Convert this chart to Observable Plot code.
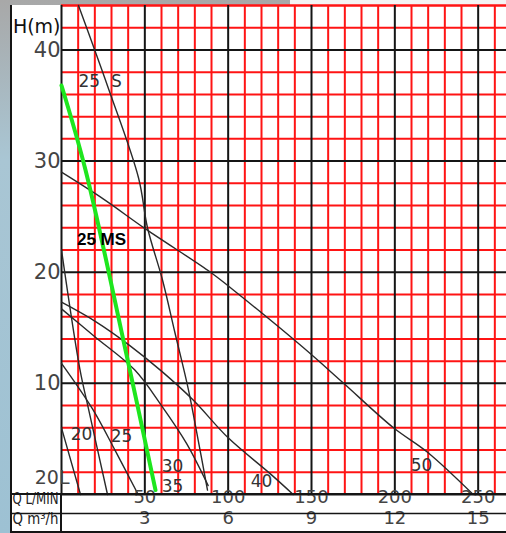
<!DOCTYPE html>
<html><head><meta charset="utf-8">
<script src="https://cdn.jsdelivr.net/npm/d3@7"></script>
<script src="https://cdn.jsdelivr.net/npm/@observablehq/plot@0.6"></script>
<style>
html,body{margin:0;padding:0;background:#fff;}
#wrap{width:506px;height:533px;overflow:hidden;}
svg{display:block;}
</style></head><body><div id="wrap"></div>
<script>
// ---- tick values / labels ----
const qTicks = [50, 100, 150, 200, 250];
const qLabels = ["50", "100", "150", "200", "250"];
const m3Labels = ["3", "6", "9", "12", "15"];
const hTicks = [10, 20, 30, 40];
const hLabels = ["10", "20", "30", "40"];
const qMajor = [0, 50, 100, 150, 200, 250];
const hMajor = [0, 10, 20, 30, 40];
const qMinor = d3.range(10, 267, 10).filter(v => v % 50 !== 0);
const hMinor = d3.range(2, 45, 2).filter(v => v % 10 !== 0);

// ---- curves (Q in L/min, H in m) ----
const s25S_Q = [10.2, 28, 46.2, 51.6, 60.6, 68, 76.2, 82, 87.6];
const s25S_H = [44, 36.6, 28.5, 24, 19.3, 14.6, 9.4, 4.9, 0.4];
const s50_Q = [0, 25, 50.4, 89.4, 101.4, 145.2, 168.6, 199.2, 219.6, 247];
const s50_H = [29, 26.6, 23.9, 20, 18.6, 13.2, 10.1, 6, 3.8, 0];
const s40_Q = [0, 20, 41, 60, 79, 100, 125, 139];
const s40_H = [17.3, 15.6, 13.4, 11.1, 8.5, 5.1, 1.9, 0];
const s35_Q = [0, 20, 44, 60, 75, 88];
const s35_H = [16.7, 14.2, 11.2, 8, 4.6, 0.8];
const s25_Q = [0, 18.6, 32.4, 46];
const s25_H = [11.8, 7.7, 3.9, 0];
const sSteep_Q = [0, 11, 16.2, 27.6];
const sSteep_H = [22, 11.3, 7.7, 0];
const s20_Q = [0, 11.4];
const s20_H = [6, 0];
const sMS_Q = [0, 14.4, 38.4, 56.4];
const sMS_H = [36.8, 29.2, 13, 0.4];

// ---- curve labels ----
const curveLabels = ["20", "25", "30", "35", "40", "50"];
const curveLabelQ = [12, 36, 66.6, 66.6, 120, 216];
const curveLabelH = [5.4, 5.2, 2.5, 0.7, 1.2, 2.6];

const pts = (Q, H) => Q.map((q, i) => ({q, h: H[i]}));
const blackCurves = [
  pts(s25S_Q, s25S_H), pts(s50_Q, s50_H), pts(s40_Q, s40_H), pts(s35_Q, s35_H),
  pts(s25_Q, s25_H), pts(sSteep_Q, sSteep_H), pts(s20_Q, s20_H)
];
const labelRows = curveLabels.map((t, i) => ({t, q: curveLabelQ[i], h: curveLabelH[i]}));

const FONT = "DejaVu Sans";
const chart = Plot.plot({
  width: 506, height: 533,
  marginLeft: 61, marginRight: 0, marginTop: 5, marginBottom: 39,
  x: {domain: [0, 267], axis: null},
  y: {domain: [0, 44], axis: null},
  style: {background: "transparent", fontFamily: FONT},
  marks: [
    Plot.ruleX(qMinor, {stroke: "#ff1414", strokeWidth: 2}),
    Plot.ruleY(hMinor, {stroke: "#ff1414", strokeWidth: 2}),
    Plot.ruleY([44], {stroke: "#ff1414", strokeWidth: 2}),
    Plot.ruleX(qMajor, {stroke: "#151515", strokeWidth: 2}),
    Plot.ruleY(hMajor, {stroke: "#151515", strokeWidth: 2}),
    ...blackCurves.map(c => Plot.line(c, {x: "q", y: "h", stroke: "#2a2a2a", strokeWidth: 1.4, curve: "catmull-rom"})),
    Plot.line(pts(sMS_Q, sMS_H), {x: "q", y: "h", stroke: "#1ee61e", strokeWidth: 4, curve: "catmull-rom"}),
    Plot.text(labelRows, {x: "q", y: "h", text: "t", fontSize: 17, fill: "#333", fontFamily: FONT}),
    Plot.text(["25\u00a0\u00a0S"], {x: [10.2], y: [37.2], textAnchor: "start", fontSize: 17, fill: "#333", fontFamily: FONT}),
    Plot.text(["25 MS"], {x: [24], y: [22.9], fontSize: 17, fontWeight: "bold", fill: "#000", fontFamily: "Liberation Sans"}),
    // y tick labels
    Plot.text(hLabels, {y: hTicks, text: d => d, frameAnchor: "left", textAnchor: "end", dx: -1, fontSize: 21, fill: "#444", fontFamily: FONT}),
    Plot.text(["20L"], {y: [1.5], frameAnchor: "left", textAnchor: "end", dx: 8, fontSize: 19, fill: "#444", fontFamily: FONT}),
    Plot.text(["H(m)"], {y: [42.05], frameAnchor: "left", textAnchor: "end", dx: -1, fontSize: 19, fill: "#111", fontFamily: FONT}),
    // bottom table labels
    Plot.text(qLabels, {x: qTicks, text: d => d, frameAnchor: "bottom", dy: 8.5, fontSize: 18, fill: "#444", fontFamily: FONT}),
    Plot.text(m3Labels, {x: qTicks, text: d => d, frameAnchor: "bottom", dy: 29.5, fontSize: 18, fill: "#444", fontFamily: FONT}),
    Plot.text(["Q L/MIN"], {frameAnchor: "bottom-left", dx: -49, dy: 9.5, textAnchor: "start", fontSize: 15, fill: "#222", fontFamily: FONT}),
    Plot.text(["Q m³/h"], {frameAnchor: "bottom-left", dx: -49, dy: 29, textAnchor: "start", fontSize: 15, fill: "#222", fontFamily: FONT})
  ]
});

// page decoration: backgrounds and table lines
const svg = d3.select(chart);
const first = chart.firstChild;
const defs = svg.insert("defs", () => first);
const g = defs.append("linearGradient").attr("id", "bg").attr("x1", 0).attr("y1", 0).attr("x2", 0).attr("y2", 1);
g.append("stop").attr("offset", "0").attr("stop-color", "#a8a8a8");
g.append("stop").attr("offset", "0.3").attr("stop-color", "#a9c6d4");
g.append("stop").attr("offset", "1").attr("stop-color", "#9dc1d3");
svg.insert("rect", () => defs.node().nextSibling).attr("x", 0).attr("y", 0).attr("width", 506).attr("height", 533).attr("fill", "url(#bg)");
const bgr = svg.select("rect");
svg.insert("rect", () => bgr.node().nextSibling).attr("x", 10).attr("y", 5).attr("width", 496).attr("height", 528).attr("fill", "#fff");
svg.insert("rect", () => bgr.node().nextSibling).attr("x", 290).attr("y", 0).attr("width", 216).attr("height", 6).attr("fill", "#f4f4f4");
const line = (x1, y1, x2, y2, w) => svg.append("line").attr("x1", x1).attr("y1", y1).attr("x2", x2).attr("y2", y2).attr("stroke", "#151515").attr("stroke-width", w);
line(11, 5, 11, 533, 2);
line(10, 494, 506, 494, 2);
line(10, 513.5, 506, 513.5, 1.5);
line(10, 532, 506, 532, 2);
line(61, 494, 61, 533, 2);
svg.selectAll("text").filter(function() { return /^Q /.test(this.textContent); })
  .attr("textLength", 46).attr("lengthAdjust", "spacingAndGlyphs");
document.getElementById("wrap").appendChild(chart);
</script>
</body></html>
